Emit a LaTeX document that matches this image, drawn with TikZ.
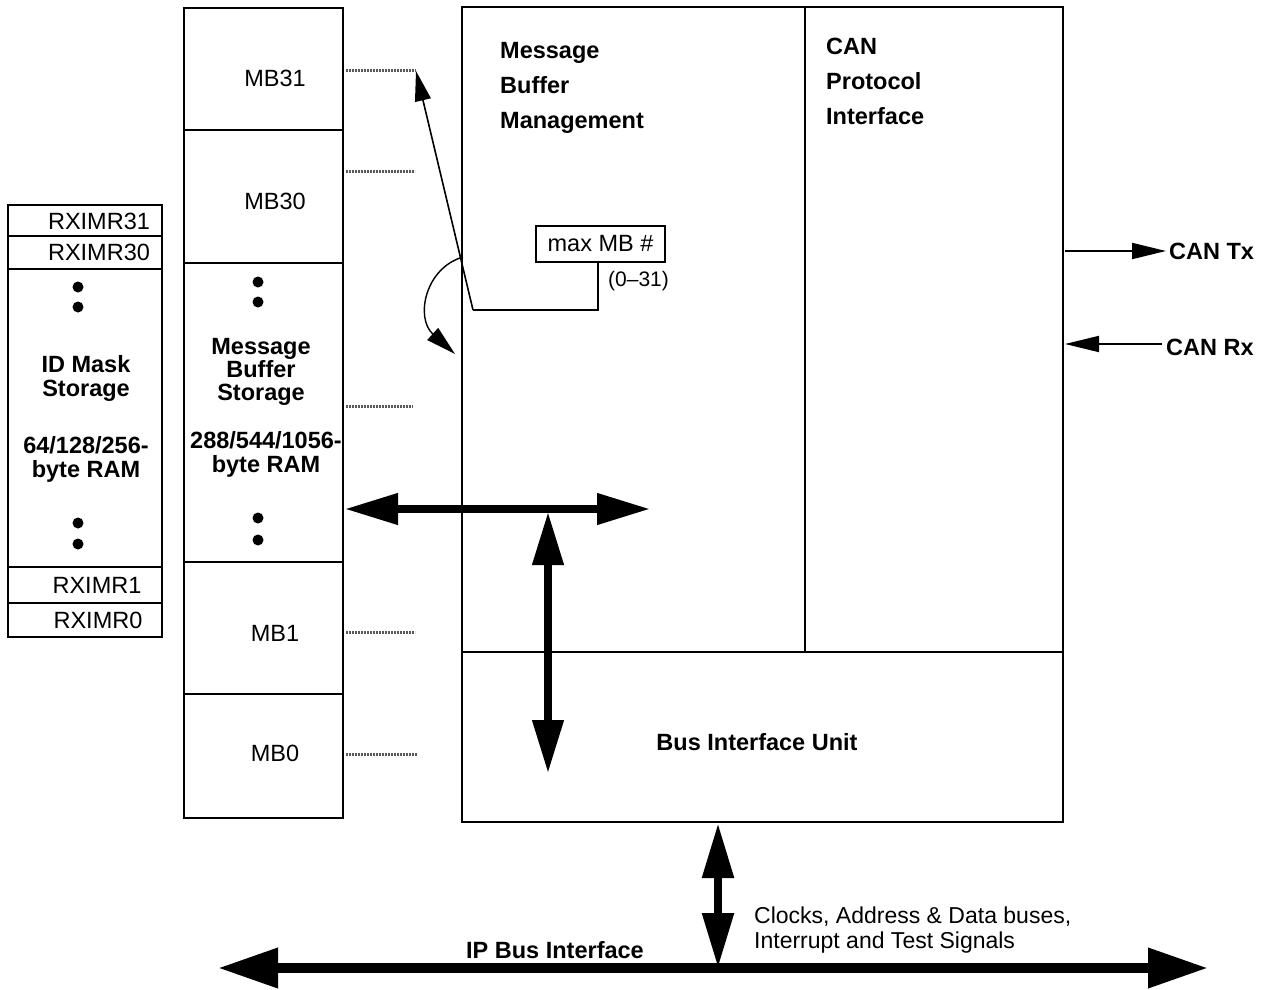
\documentclass[tikz,border=0pt]{standalone}
\usepackage{fontspec}
\setmainfont{Liberation Sans}
\usetikzlibrary{arrows.meta}
\begin{document}
\begin{tikzpicture}[x=1pt,y=-1pt,
  box/.style={draw,line width=2.4pt},
  lbl/.style={font=\fontsize{23.5}{27}\selectfont,inner sep=0pt},
  blbl/.style={font=\fontsize{23.5}{27}\selectfont\bfseries,inner sep=0pt,align=center},
  dotline/.style={draw=black!65,line width=3pt,dash pattern=on 2pt off 1pt},
  bigdot/.style={fill,circle,minimum size=11pt,inner sep=0pt},
  thickarr/.style={line width=7.5pt,{Triangle[length=53pt,width=30pt]}-{Triangle[length=53pt,width=30pt]}},
  busarr/.style={line width=10pt,{Triangle[length=60pt,width=38pt]}-{Triangle[length=60pt,width=38pt]}},
  vbusarr/.style={line width=8.5pt,{Triangle[length=55pt,width=30pt]}-{Triangle[length=55pt,width=30pt]}},
  thinarr/.style={line width=1.6pt,-{Triangle[length=30pt,width=16pt]}}
]
\useasboundingbox (0,0) rectangle (1264,990);

% ID mask storage column
\draw[box] (8,205) rectangle (162,637);
\draw[box] (8,236) -- (162,236);
\draw[box] (8,269) -- (162,269);
\draw[box] (8,567) -- (162,567);
\draw[box] (8,603) -- (162,603);
\node[lbl] (r31) at (99,221) {RXIMR31};
\node[lbl] (r30) at (99,252) {RXIMR30};
\node[lbl] (r1) at (97,585) {RXIMR1};
\node[lbl] (r0) at (98,620) {RXIMR0};
\node[bigdot] (d1) at (78,287) {};
\node[bigdot] (d2) at (78,307) {};
\node[bigdot] (d3) at (78,523) {};
\node[bigdot] (d4) at (78,544) {};
\node[blbl] (idm) at (86,378) {ID Mask\\[-3pt]Storage};
\node[blbl] (idr) at (86,459) {64/128/256-\\[-3pt]byte RAM};

% Message buffer storage column
\draw[box] (184,8) rectangle (343,818);
\draw[box] (184,130) -- (343,130);
\draw[box] (184,263) -- (343,263);
\draw[box] (184,562) -- (343,562);
\draw[box] (184,694) -- (343,694);
\node[lbl] (mb31) at (275,78) {MB31};
\node[lbl] (mb30) at (275,201) {MB30};
\node[lbl] (mb1) at (275,633) {MB1};
\node[lbl] (mb0) at (275,753) {MB0};
\node[bigdot] (e1) at (258,282) {};
\node[bigdot] (e2) at (258,302) {};
\node[bigdot] (e3) at (258,518) {};
\node[bigdot] (e4) at (258,540) {};
\node[blbl] (mbs) at (261,372) {Message\\[-4pt]Buffer\\[-4pt]Storage};
\node[blbl] (mbr) at (266,454) {288/544/1056-\\[-3pt]byte RAM};

% dotted connection lines
\coordinate (t31a) at (346,71); \coordinate (t31b) at (416,71);
\coordinate (t30a) at (346,171); \coordinate (t30b) at (415,171);
\coordinate (tsa) at (346,406); \coordinate (tsb) at (413,406);
\coordinate (t1a) at (346,632); \coordinate (t1b) at (415,632);
\coordinate (t0a) at (346,754); \coordinate (t0b) at (417,754);
\draw[dotline] (t31a) -- (t31b);
\draw[dotline] (t30a) -- (t30b);
\draw[dotline] (tsa) -- (tsb);
\draw[dotline] (t1a) -- (t1b);
\draw[dotline] (t0a) -- (t0b);

% main block
\draw[box] (462,7) rectangle (1063,822);
\draw[box] (805,7) -- (805,652);
\draw[box] (462,652) -- (1063,652);
\node[font=\fontsize{23.5}{35}\selectfont\bfseries,align=left,anchor=north west,inner sep=0pt] (mbm) at (500,42) {Message\\Buffer\\Management};
\node[font=\fontsize{23.5}{35}\selectfont\bfseries,align=left,anchor=north west,inner sep=0pt] (cpi) at (826,38) {CAN\\Protocol\\Interface};
\node[blbl] (biu) at (757,742) {Bus Interface Unit};

% max MB # box and pointer
\node[box,lbl,minimum width=129pt,minimum height=36pt] (maxmb) at (600.5,244) {max MB \#};
\node[lbl,anchor=west,font=\fontsize{21}{24}\selectfont] (rng) at (608,281) {(0--31)};
\coordinate (p1) at (598,310);
\coordinate (p2) at (473,310);
\draw[line width=2.4pt] (maxmb.south -| p1) -- (p1) -- (p2);
\draw[thinarr] (p2) -- (t31b);

% curved arrow
\coordinate (c0) at (463,257);
\coordinate (c1) at (455,354);
\draw[thinarr,line width=1.4pt] (c0) .. controls (425,268) and (415,318) .. (c1);

% thick internal arrows
\coordinate (h1) at (345,509);
\coordinate (h2) at (650,509);
\coordinate (v1) at (548,512);
\coordinate (v2) at (548,773);
\draw[thickarr] (h1) -- (h2);
\draw[thickarr] (v1) -- (v2);

% CAN Tx / Rx
\node[blbl,anchor=west] (tx) at (1169,251) {CAN Tx};
\node[blbl,anchor=west] (rx) at (1166,347) {CAN Rx};
\coordinate (txs) at (1065,251);
\coordinate (txe) at (1166,251);
\coordinate (rxs) at (1065,344);
\coordinate (rxe) at (1162,344);
\draw[line width=2pt,-{Triangle[length=34pt,width=16pt]}] (txs) -- (txe);
\draw[line width=2pt,-{Triangle[length=34pt,width=16pt]}] (rxe) -- (rxs);

% IP bus
\coordinate (bl) at (218,968);
\coordinate (br) at (1208,968);
\coordinate (vb1) at (718,823);
\coordinate (vb2) at (718,968);
\draw[busarr] (bl) -- (br);
\draw[vbusarr] (vb1) -- (vb2);
\node[blbl] (ipb) at (555,950) {IP Bus Interface};
\node[lbl,align=left,anchor=west,font=\fontsize{23}{25}\selectfont] (clk) at (754,930) {Clocks, Address \& Data buses,\\Interrupt and Test Signals};
\end{tikzpicture}
\end{document}
